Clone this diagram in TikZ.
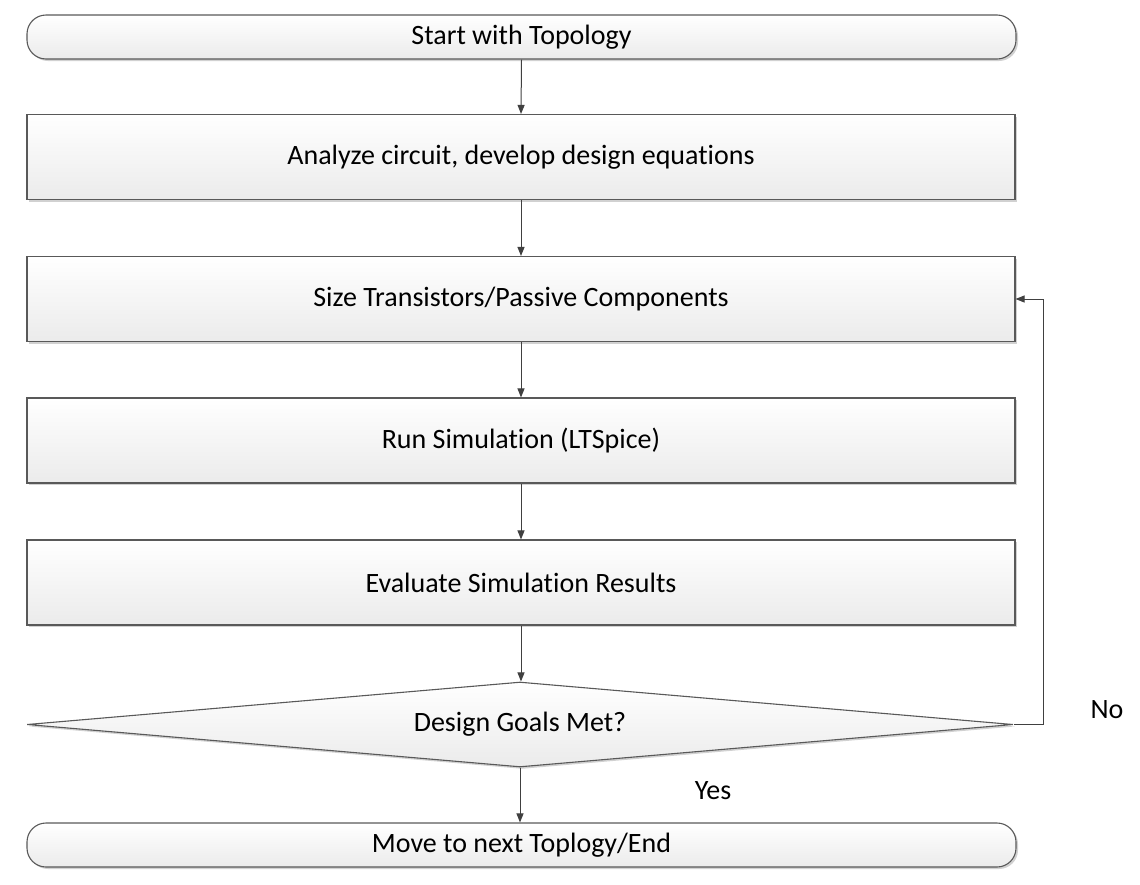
\documentclass[tikz,border=0pt]{standalone}
\usepackage{fontspec}
\setmainfont{Carlito}[Ligatures=NoCommon]
\usetikzlibrary{arrows.meta,shapes.geometric,shadows}
\definecolor{edge}{HTML}{595959}
\definecolor{linec}{HTML}{404040}
\definecolor{fillbot}{HTML}{EBEBEB}
\tikzset{
  x=1pt,y=-1pt,
  every node/.style={font=\fontsize{28}{32}\selectfont, text=black},
  base/.style={draw=edge, line width=1.1pt, top color=white, bottom color=fillbot,
    drop shadow={shadow xshift=2pt, shadow yshift=-2pt, opacity=0.18, fill=black}},
  term/.style={base, rounded corners=19pt, minimum width=989pt, minimum height=44pt, inner sep=0pt},
  proc/.style={base, minimum width=988pt, minimum height=85pt, inner sep=0pt},
  decide/.style={base, diamond, aspect=11.6, minimum width=986pt, minimum height=85pt, inner sep=0pt},
  conn/.style={draw=linec, line width=1pt, -{Triangle[length=9pt,width=7pt]}},
  lbl/.style={inner sep=0pt}
}
\begin{document}
\begin{tikzpicture}
\useasboundingbox (0,0) rectangle (1140,884);
\node[term] (start) at (521.5,37) {Start with Topology};
\node[proc] (analyze) at (521,157) {Analyze circuit, develop design equations};
\node[proc] (size) at (521,299) {Size Transistors/Passive Components};
\node[proc] (run) at (521,440.5) {Run Simulation (LTSpice)};
\node[proc] (eval) at (521,582.5) {Evaluate Simulation Results};
\node[decide] (goal) at (520,724.5) {Design Goals Met?};
\node[term] (end) at (521.5,845) {Move to next Toplogy/End};
\coordinate (loop) at (1043,724.5);
\node[lbl] (no) at (1107,710) {No};
\node[lbl] (yes) at (713,791) {Yes};
\draw[conn] (start.south) -- (analyze.north);
\draw[conn] (analyze.south) -- (size.north);
\draw[conn] (size.south) -- (run.north);
\draw[conn] (run.south) -- (eval.north);
\draw[conn] (eval.south) -- (eval.south |- goal.north);
\draw[conn] (goal.south) -- (goal.south |- end.north);
\draw[conn] (goal.east) -- (loop) |- (size.east);
\end{tikzpicture}
\end{document}
